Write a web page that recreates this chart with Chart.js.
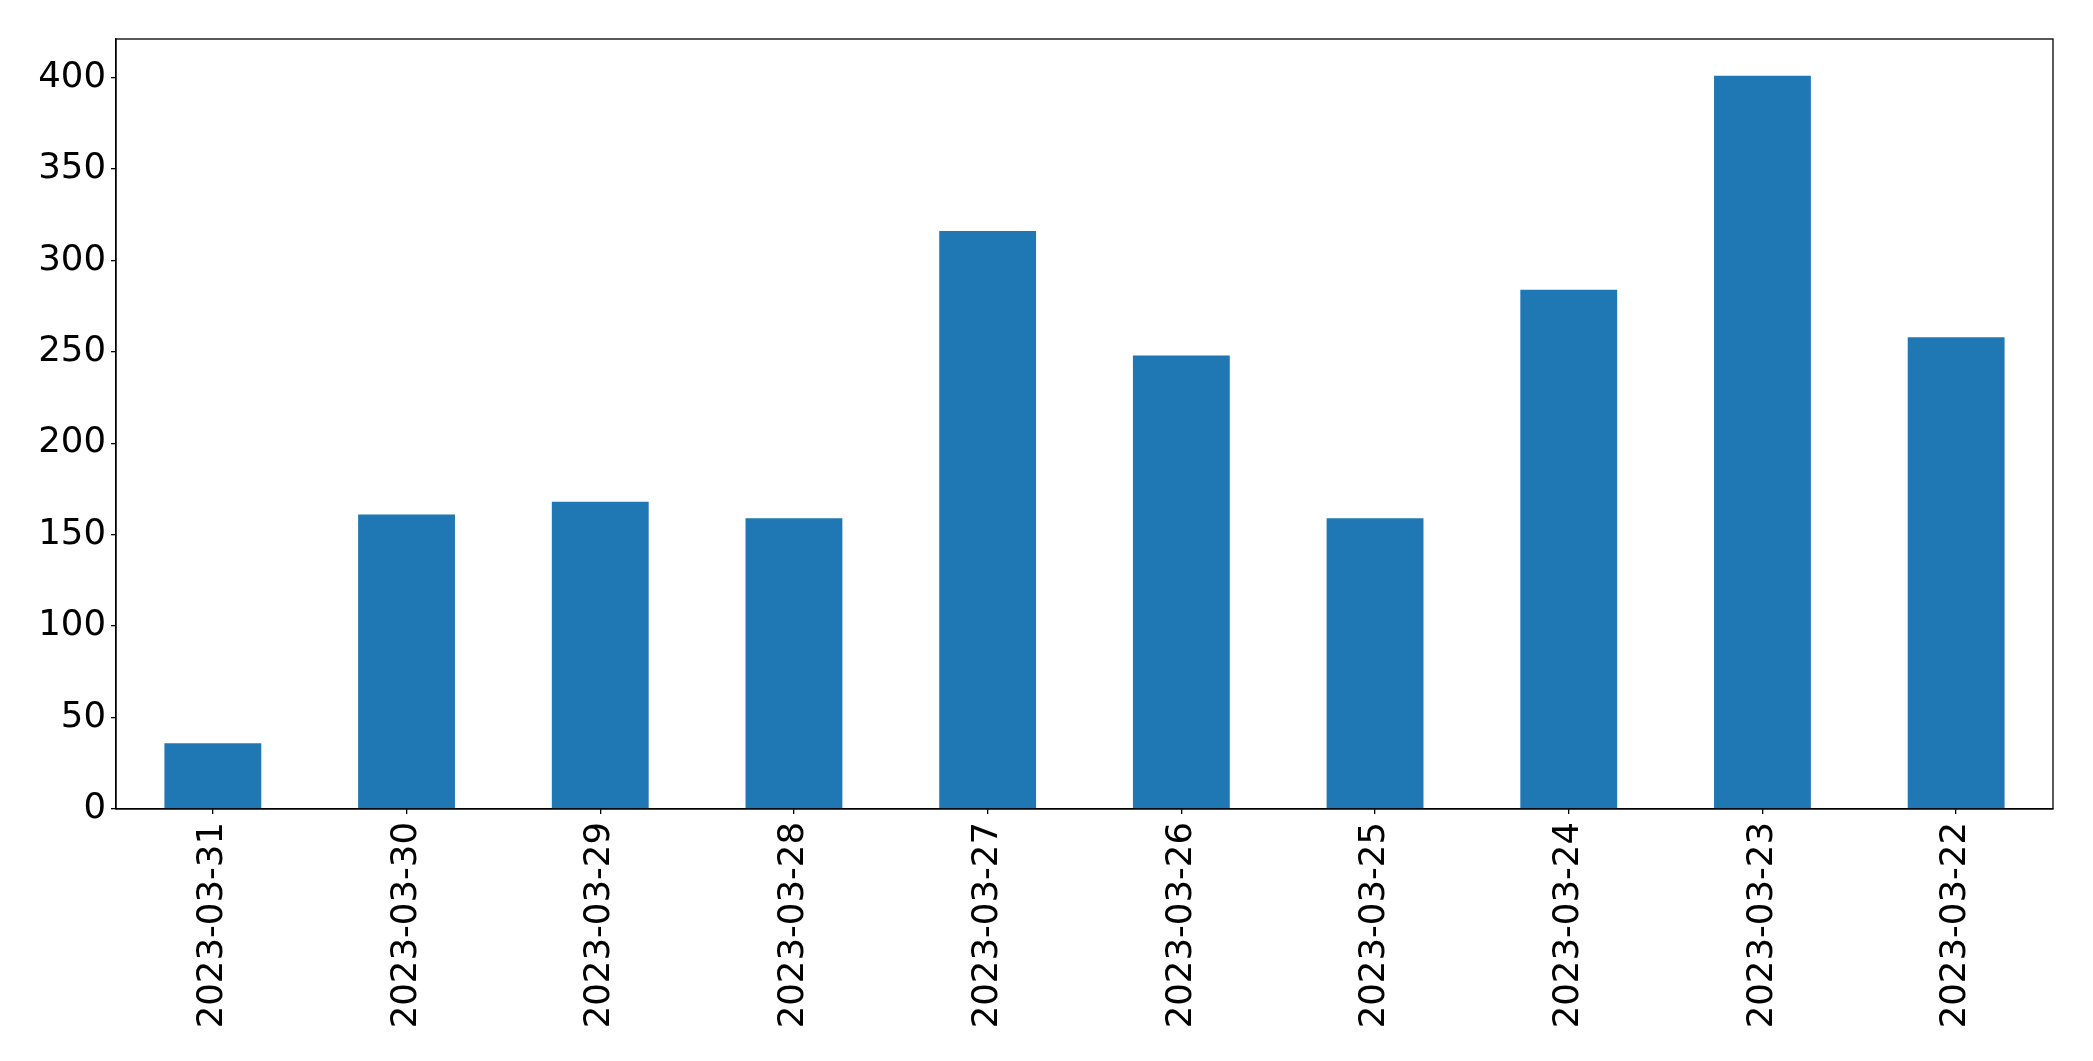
<!DOCTYPE html>
<html>
<head>
<meta charset="utf-8">
<script src="https://cdn.jsdelivr.net/npm/chart.js@4/dist/chart.umd.min.js"></script>
<style>
  html, body { margin: 0; padding: 0; background: white; }
  #myChart { display: block; }
</style>
</head>
<body>
<canvas id="myChart" width="2093" height="1061"></canvas>
<script>
// dados do gráfico
var datas = ["2023-03-31", "2023-03-30", "2023-03-29", "2023-03-28", "2023-03-27", "2023-03-26", "2023-03-25", "2023-03-24", "2023-03-23", "2023-03-22"]
var valores = [36, 161, 168, 159, 316, 248, 159, 284, 401, 258]
var yTicks = [0, 50, 100, 150, 200, 250, 300, 350, 400]
var yMax = 421.05

// caixa em volta da área do gráfico
var moldura = {
  id: 'moldura',
  afterDraw: function(chart) {
    var a = chart.chartArea
    var ctx = chart.ctx
    ctx.save()
    ctx.strokeStyle = 'black'
    ctx.lineWidth = 1.3
    ctx.strokeRect(a.left, a.top, a.right - a.left, a.bottom - a.top)
    ctx.restore()
  }
}

var ctx = document.getElementById('myChart').getContext('2d')
var myChart = new Chart(ctx, {
  type: 'bar',
  data: {
    labels: datas,
    datasets: [{
      data: valores,
      backgroundColor: '#1f77b4',
      borderWidth: 0,
      categoryPercentage: 0.5,
      barPercentage: 1.0
    }]
  },
  options: {
    responsive: false,
    animation: false,
    devicePixelRatio: 1,
    layout: {
      padding: { left: 0, right: 40, top: 39, bottom: 0 }
    },
    plugins: {
      legend: { display: false },
      tooltip: { enabled: false }
    },
    scales: {
      x: {
        offset: true,
        grid: {
          offset: false,
          drawOnChartArea: false,
          drawTicks: true,
          tickLength: 5,
          color: 'black',
          lineWidth: 1.3
        },
        border: { display: true, color: 'black', width: 1.3 },
        ticks: {
          color: 'black',
          minRotation: 90,
          maxRotation: 90,
          autoSkip: false,
          padding: 8,
          font: { family: 'DejaVu Sans', size: 35.5 }
        },
        afterFit: function(scale) {
          scale.height = 1061 - 809
        }
      },
      y: {
        min: 0,
        max: yMax,
        grid: {
          drawOnChartArea: false,
          drawTicks: true,
          tickLength: 5,
          color: 'black',
          lineWidth: 1.3
        },
        border: { display: true, color: 'black', width: 1.3 },
        ticks: {
          color: 'black',
          stepSize: 50,
          padding: 5,
          font: { family: 'DejaVu Sans', size: 35.5 }
        },
        afterBuildTicks: function(scale) {
          scale.ticks = yTicks.map(function(v) { return { value: v } })
        },
        afterFit: function(scale) {
          scale.width = 116
        }
      }
    }
  },
  plugins: [moldura]
})
</script>
</body>
</html>
